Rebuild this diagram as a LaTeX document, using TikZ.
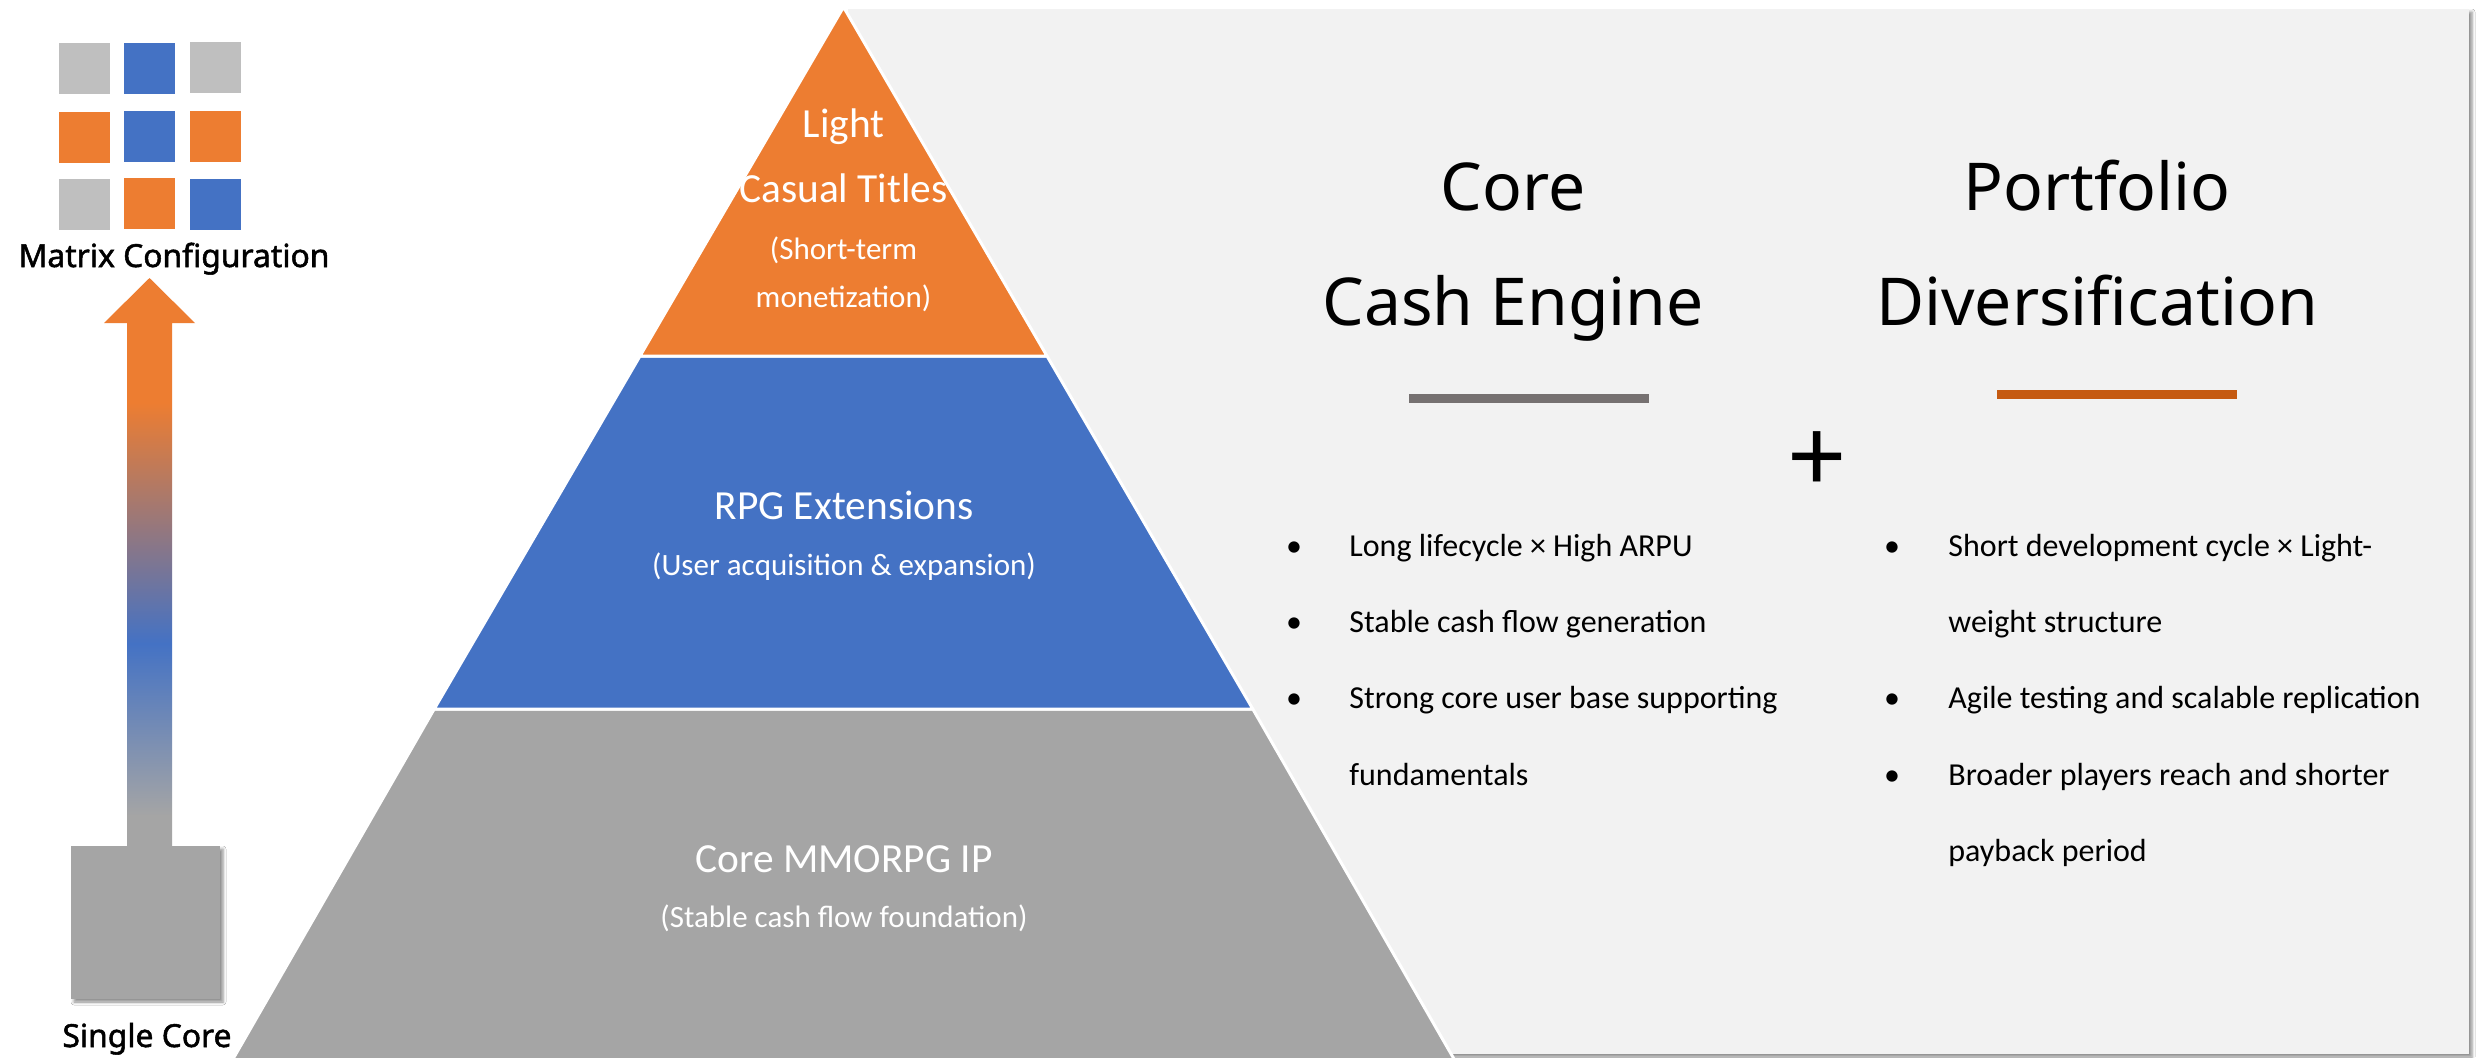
\documentclass[tikz,border=0pt]{standalone}
\usepackage{fontspec}
\setmainfont{Carlito}
\newfontfamily\headfont{Noto Sans}
\newfontfamily\labelfont[FakeBold=1.6]{Noto Sans}
\usetikzlibrary{shadows.blur}
\definecolor{porange}{HTML}{ED7D31}
\definecolor{pblue}{HTML}{4472C4}
\definecolor{pgray}{HTML}{A5A5A5}
\definecolor{lgray}{HTML}{BFBFBF}
\definecolor{panelbg}{HTML}{F2F2F2}
\definecolor{dashgray}{HTML}{767171}
\definecolor{dashorange}{HTML}{C55A11}
\pgfdeclareverticalshading{growth}{100bp}{color(0bp)=(pgray); color(28.8bp)=(pgray); color(43.6bp)=(pblue); color(64.3bp)=(porange); color(100bp)=(porange)}
\begin{document}
\begin{tikzpicture}[x=0.5pt,y=-0.5pt,
  layer/.style={draw=white, line width=1.5pt, line join=round},
  pybig/.style={text=white, inner sep=0pt, anchor=base, font=\fontsize{20.7}{24}\selectfont},
  pysmall/.style={text=white, inner sep=0pt, anchor=base, font=\fontsize{15.5}{18}\selectfont},
  lbl/.style={inner sep=0pt, anchor=base, font=\labelfont\fontsize{15.9}{18}\selectfont},
  head/.style={inner sep=0pt, anchor=base, font=\headfont\fontsize{33}{40}\selectfont},
  bul/.style={inner sep=0pt, anchor=base, font=\fontsize{16}{19}\selectfont},
  btxt/.style={inner sep=0pt, anchor=base west, font=\fontsize{16}{19}\selectfont},
  shad/.style={blur shadow={shadow xshift=1.5pt, shadow yshift=-1.5pt, shadow blur radius=1.5pt, shadow opacity=45}}
]
\useasboundingbox (0,0) rectangle (2481,1057);
\fill[white] (0,0) rectangle (2481,1057);

% right panel
\fill[panelbg, shad] (848,9) rectangle (2469,1054);

% pyramid
\filldraw[layer, fill=pgray] (434.2,709) -- (1252.8,709) -- (1463.2,1075) -- (223.8,1075) -- cycle;
\filldraw[layer, fill=pblue] (640,356) -- (1047,356) -- (1252.8,709) -- (434.2,709) -- cycle;
\filldraw[layer, fill=porange] (843.5,7) -- (1047,356) -- (640,356) -- cycle;

\node[pybig] (light) at (843.5,137) {Light};
\node[pybig] (casual) at (843.5,202) {Casual Titles};
\node[pysmall] (short) at (843.5,259) {(Short-term};
\node[pysmall] (monet) at (843.5,307) {monetization)};
\node[pybig] (rpg) at (844,519) {RPG Extensions};
\node[pysmall] (ua) at (844,575) {(User acquisition \& expansion)};
\node[pybig] (mmo) at (844,872) {Core MMORPG IP};
\node[pysmall] (cash) at (844,927) {(Stable cash flow foundation)};

% matrix squares
\fill[lgray]   (59,43) rectangle ++(51,51);
\fill[pblue]   (124,43) rectangle ++(51,51);
\fill[lgray]   (190,42) rectangle ++(51,51);
\fill[porange] (59,112) rectangle ++(51,51);
\fill[pblue]   (124,111) rectangle ++(51,51);
\fill[porange] (190,111) rectangle ++(51,51);
\fill[lgray]   (59,179) rectangle ++(51,51);
\fill[porange] (124,178) rectangle ++(51,51);
\fill[pblue]   (190,179) rectangle ++(51,51);
\node[lbl] (matrix) at (174,267) {Matrix Configuration};

% growth arrow
\shade[shading=growth] (149.5,278) -- (195,323) -- (172,323) -- (172,860) -- (127,860) -- (127,323) -- (104,323) -- cycle;

% single core
\fill[pgray, shad] (71,846) rectangle (220,999);
\node[lbl] (single) at (147,1047) {Single Core};

% headings
\node[head] (core1) at (1513,210) {Core};
\node[head] (core2) at (1513,325) {Cash Engine};
\node[head] (port1) at (2097,210) {Portfolio};
\node[head] (port2) at (2097,325) {Diversification};
\fill[dashgray] (1409,394) rectangle (1649,403);
\fill[dashorange] (1997,390) rectangle (2237,399);
\node[inner sep=0pt, font=\headfont\fontsize{52}{60}\selectfont] (plus) at (1817,463) {+};

% left bullets
\node[bul] (b1) at (1294,556) {•};
\node[btxt] (t1) at (1349,556) {Long lifecycle × High ARPU};
\node[bul] (b2) at (1294,632) {•};
\node[btxt] (t2) at (1349,632) {Stable cash flow generation};
\node[bul] (b3) at (1294,708) {•};
\node[btxt] (t3) at (1349,708) {Strong core user base supporting};
\node[btxt] (t3b) at (1349,785) {fundamentals};

% right bullets
\node[bul] (c1) at (1892,556) {•};
\node[btxt] (u1) at (1948,556) {Short development cycle × Light-};
\node[btxt] (u1b) at (1948,632) {weight structure};
\node[bul] (c2) at (1892,708) {•};
\node[btxt] (u2) at (1948,708) {Agile testing and scalable replication};
\node[bul] (c3) at (1892,785) {•};
\node[btxt] (u3) at (1948,785) {Broader players reach and shorter};
\node[btxt] (u3b) at (1948,861) {payback period};
\end{tikzpicture}
\end{document}
